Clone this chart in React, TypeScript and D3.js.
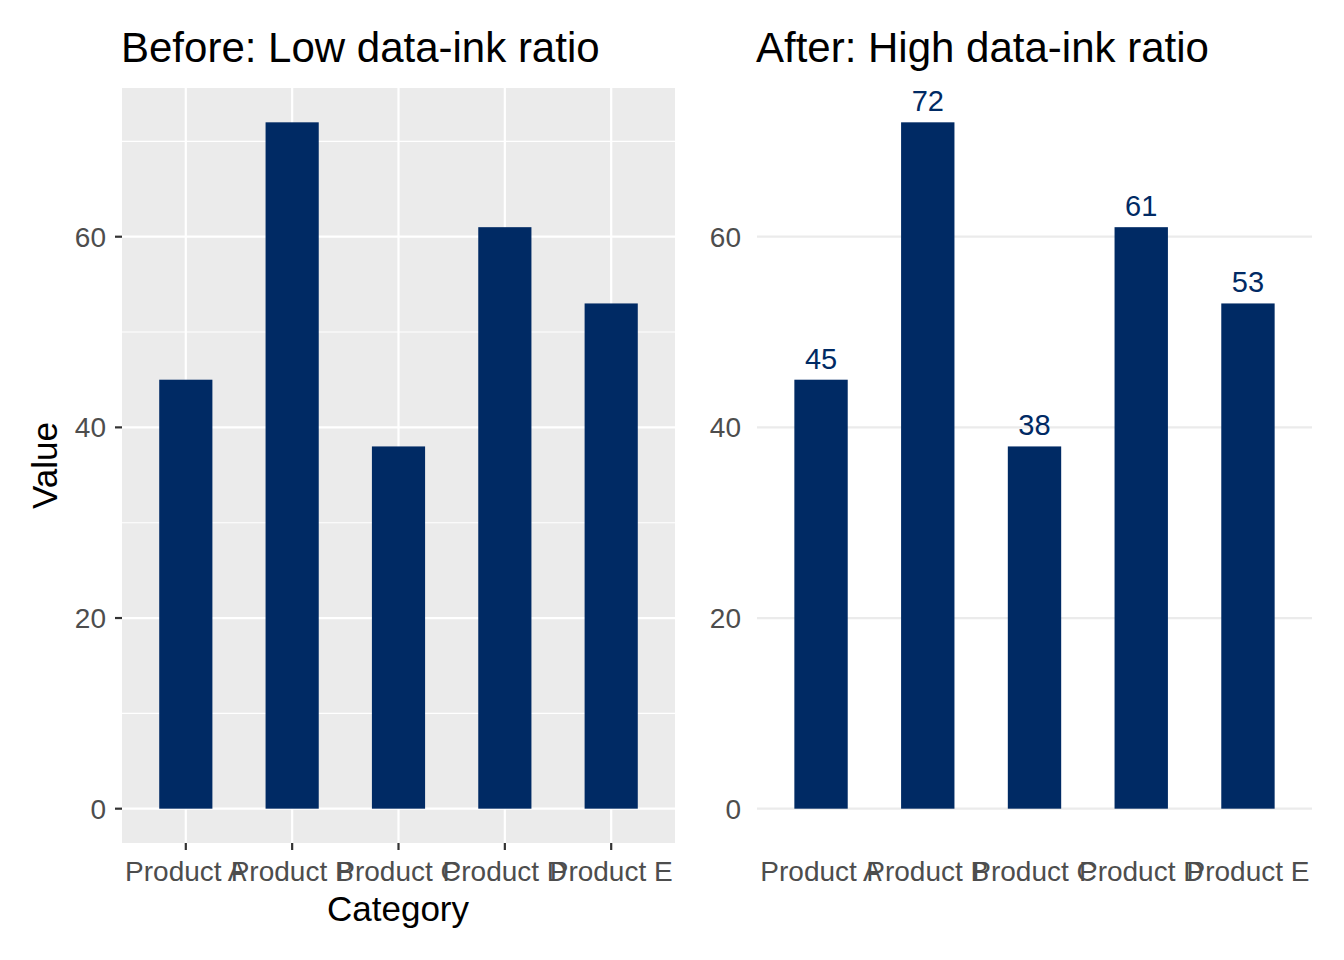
import * as d3 from "d3"

const categories = ["Product A", "Product B", "Product C", "Product D", "Product E"]
const values = [45, 72, 38, 61, 53]
const yTicks = [0, 20, 40, 60]
const yMinor = [10, 30, 50, 70]

const FONT = "'Liberation Sans', Arial, Helvetica, sans-serif"
const BAR = "#002a64"
const W = 1344
const H = 960

const top = 88
const bottom = 843

function Panel({ x0, x1, before }: { x0: number; x1: number; before: boolean }) {
  const maxV = d3.max(values) as number
  const y = d3.scaleLinear().domain([-maxV * 0.05, maxV * 1.05]).range([bottom, top])
  const x = d3.scalePoint<string>().domain(categories).range([x0, x1]).padding(0.6)
  const bw = x.step() * 0.5

  return (
    <g>
      {before && <rect x={x0} y={top} width={x1 - x0} height={bottom - top} fill="#ebebeb" />}
      {before &&
        yMinor.map((t) => (
          <line key={"m" + t} x1={x0} x2={x1} y1={y(t)} y2={y(t)} stroke="#fff" strokeWidth={1.1} />
        ))}
      {yTicks.map((t) => (
        <line
          key={"g" + t}
          x1={x0}
          x2={x1}
          y1={y(t)}
          y2={y(t)}
          stroke={before ? "#fff" : "#ebebeb"}
          strokeWidth={2.2}
        />
      ))}
      {before &&
        categories.map((c) => (
          <line key={"v" + c} x1={x(c)} x2={x(c)} y1={top} y2={bottom} stroke="#fff" strokeWidth={2.2} />
        ))}
      {categories.map((c, i) => (
        <rect
          key={"b" + c}
          x={(x(c) as number) - bw / 2}
          y={y(values[i])}
          width={bw}
          height={y(0) - y(values[i])}
          fill={BAR}
        />
      ))}
      {!before &&
        categories.map((c, i) => (
          <text
            key={"l" + c}
            x={x(c)}
            y={y(values[i]) - 11}
            textAnchor="middle"
            fontSize={29}
            fill={BAR}
          >
            {values[i]}
          </text>
        ))}
      {yTicks.map((t) => (
        <g key={"t" + t}>
          {before && <line x1={x0 - 7} x2={x0} y1={y(t)} y2={y(t)} stroke="#333" strokeWidth={2.2} />}
          <text x={x0 - 16} y={y(t)} dy="0.36em" textAnchor="end" fontSize={28} fill="#4d4d4d">
            {t}
          </text>
        </g>
      ))}
      {categories.map((c) => (
        <g key={"x" + c}>
          {before && (
            <line x1={x(c)} x2={x(c)} y1={bottom} y2={bottom + 7} stroke="#333" strokeWidth={2.2} />
          )}
          <text x={x(c)} y={881} textAnchor="middle" fontSize={28} fill="#4d4d4d">
            {c}
          </text>
        </g>
      ))}
      <text x={x0 - 1} y={62} fontSize={42} fill="#000">
        {before ? "Before: Low data-ink ratio" : "After: High data-ink ratio"}
      </text>
    </g>
  )
}

export default function App() {
  return (
    <svg
      width={W}
      height={H}
      style={{ position: "absolute", left: 0, top: 0, background: "#fff", fontFamily: FONT }}
    >
      <rect width={W} height={H} fill="#fff" />
      <Panel x0={122} x1={675} before={true} />
      <Panel x0={757} x1={1312} before={false} />
      <text x={398} y={921} textAnchor="middle" fontSize={35} fill="#000">
        Category
      </text>
      <text
        transform={`translate(57,${(top + bottom) / 2}) rotate(-90)`}
        textAnchor="middle"
        fontSize={35}
        fill="#000"
      >
        Value
      </text>
    </svg>
  )
}
